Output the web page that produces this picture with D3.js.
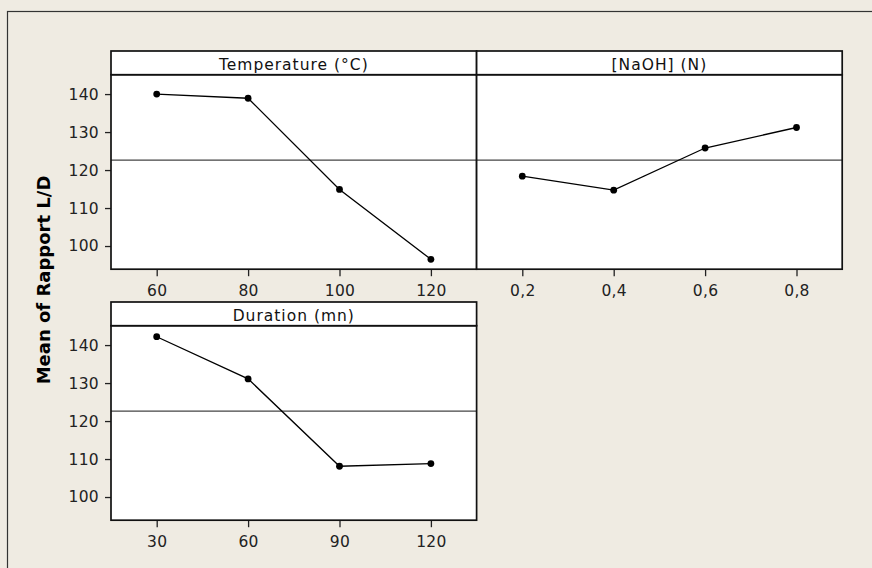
<!DOCTYPE html>
<html>
<head>
<meta charset="utf-8">
<script src="https://cdn.jsdelivr.net/npm/d3@7"></script>
<style>
    body { margin: 0; background: #fff; }
    svg { display: block; }
</style>
</head>
<body>
<script>
// main effects plot data
const factorNames = ["Temperature (°C)", "[NaOH] (N)", "Duration (mn)"];
const temperatureLevels = ["60", "80", "100", "120"];
const temperatureMeans = [140.0, 138.9, 114.9, 96.5];
const naohLevels = ["0,2", "0,4", "0,6", "0,8"];
const naohMeans = [118.4, 114.7, 125.8, 131.2];
const durationLevels = ["30", "60", "90", "120"];
const durationMeans = [142.2, 131.1, 108.1, 108.8];
const grandMean = 122.6;
const yTickValues = [100, 110, 120, 130, 140];
const yLabel = "Mean of Rapport L/D";

const panels = [
    {name: factorNames[0], levels: temperatureLevels, means: temperatureMeans, col: 0, row: 0},
    {name: factorNames[1], levels: naohLevels, means: naohMeans, col: 1, row: 0},
    {name: factorNames[2], levels: durationLevels, means: durationMeans, col: 0, row: 1},
];

const fullSize = {width: 872, height: 568};
const grid = {
    left: 111,
    panelWidth: 365.6,
    tops: [51, 302],
    stripHeight: 23.7,
    plotHeight: 194.5,
};
const tickFont = "'DejaVu Sans', sans-serif";

const svg = d3.select(document.body).append("svg")
    .attr("width", fullSize.width)
    .attr("height", fullSize.height)
;

// beige background with frame on top/left
svg.append("rect")
    .attr("width", fullSize.width)
    .attr("height", fullSize.height)
    .attr("fill", "#efebe2")
;
svg.append("rect")
    .attr("x", 7.5)
    .attr("y", 11.5)
    .attr("width", fullSize.width + 20)
    .attr("height", fullSize.height + 20)
    .attr("fill", "none")
    .attr("stroke", "#333")
    .attr("stroke-width", 1.2)
;

const y = d3.scaleLinear()
    .domain([93.9, 145.1])
    .range([grid.plotHeight, 0])
;

panels.forEach(p => {
    const x0 = grid.left + p.col * grid.panelWidth;
    const y0 = grid.tops[p.row];
    const g = svg.append("g")
        .attr("transform", `translate(${x0},${y0})`)
    ;
    const x = d3.scalePoint()
        .domain(p.levels)
        .range([0, grid.panelWidth])
        .padding(0.5)
    ;
    const plot = g.append("g")
        .attr("transform", `translate(0,${grid.stripHeight})`)
    ;

    // panel background
    plot.append("rect")
        .attr("width", grid.panelWidth)
        .attr("height", grid.plotHeight)
        .attr("fill", "#fff")
    ;

    // x axis
    const xAxis = plot.append("g")
        .attr("transform", `translate(0,${grid.plotHeight})`)
        .call(d3.axisBottom(x).tickSize(7).tickPadding(9))
    ;
    xAxis.select(".domain").remove();
    xAxis.selectAll("line").attr("stroke", "#222").attr("stroke-width", 1.3);
    xAxis.selectAll("text")
        .attr("fill", "#222")
        .style("font-family", tickFont)
        .style("font-size", "15.5px")
        .style("letter-spacing", "0.3px")
    ;

    // y axis only on the left column
    if (p.col === 0) {
        const yAxis = plot.append("g")
            .call(d3.axisLeft(y).tickValues(yTickValues).tickSize(6).tickPadding(6))
        ;
        yAxis.select(".domain").remove();
        yAxis.selectAll("line").attr("stroke", "#222").attr("stroke-width", 1.3);
        yAxis.selectAll("text")
            .attr("fill", "#222")
            .style("font-family", tickFont)
            .style("font-size", "15.5px")
            .style("letter-spacing", "0.3px")
        ;
    }

    // grand mean reference line
    plot.append("line")
        .attr("x1", 0)
        .attr("x2", grid.panelWidth)
        .attr("y1", y(grandMean))
        .attr("y2", y(grandMean))
        .attr("stroke", "#444")
        .attr("stroke-width", 1.1)
    ;

    // the means
    const line = d3.line()
        .x((d, i) => x(p.levels[i]))
        .y(d => y(d))
    ;
    plot.append("path")
        .datum(p.means)
        .attr("d", line)
        .attr("fill", "none")
        .attr("stroke", "#000")
        .attr("stroke-width", 1.3)
    ;
    plot.selectAll("circle")
        .data(p.means)
        .join("circle")
        .attr("cx", (d, i) => x(p.levels[i]))
        .attr("cy", d => y(d))
        .attr("r", 3.4)
        .attr("fill", "#000")
    ;

    // plot border
    plot.append("rect")
        .attr("width", grid.panelWidth)
        .attr("height", grid.plotHeight)
        .attr("fill", "none")
        .attr("stroke", "#111")
        .attr("stroke-width", 1.7)
    ;

    // title strip
    g.append("rect")
        .attr("width", grid.panelWidth)
        .attr("height", grid.stripHeight)
        .attr("fill", "#fff")
        .attr("stroke", "#111")
        .attr("stroke-width", 1.7)
    ;
    g.append("text")
        .text(p.name)
        .attr("x", grid.panelWidth / 2)
        .attr("y", grid.stripHeight - 5)
        .attr("text-anchor", "middle")
        .attr("fill", "#111")
        .style("font-family", tickFont)
        .style("font-size", "15.5px")
        .style("letter-spacing", "1px")
    ;
});

// shared y label
svg.append("text")
    .text(yLabel)
    .attr("transform", "translate(50,280) rotate(-90)")
    .attr("text-anchor", "middle")
    .attr("fill", "#000")
    .style("font-family", "'DejaVu Sans', sans-serif")
    .style("font-weight", "bold")
    .style("font-size", "18px")
;
</script>
</body>
</html>
